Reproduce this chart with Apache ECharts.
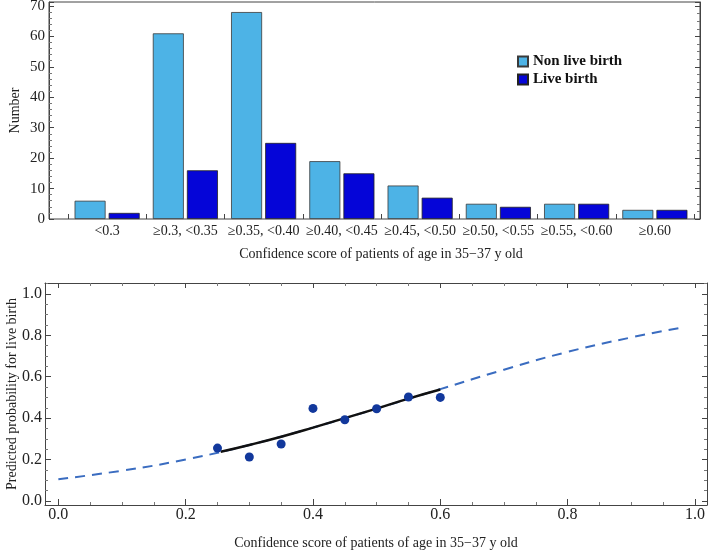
<!DOCTYPE html>
<html lang="en">
<head>
    <meta charset="utf-8">
    <title>Confidence score of patients of age in 35-37 y old</title>
</head>
<body style="margin:0;background:#fff">
    <div id="main" style="width:709px;height:551px;"></div>
    <script src="https://cdn.jsdelivr.net/npm/echarts@6/dist/echarts.min.js"></script>
    <script type="text/javascript">
        // histogram
        var categories = ['<0.3', '≥0.3, <0.35', '≥0.35, <0.40', '≥0.40, <0.45', '≥0.45, <0.50', '≥0.50, <0.55', '≥0.55, <0.60', '≥0.60'];
        var nonLiveBirth = [6, 61, 68, 19, 11, 5, 5, 3];
        var liveBirth = [2, 16, 25, 15, 7, 4, 5, 3];

        // observed rates
        var scoreX = [0.25, 0.30, 0.35, 0.40, 0.45, 0.50, 0.55, 0.60];
        var observedP = [0.255, 0.212, 0.275, 0.447, 0.392, 0.445, 0.502, 0.50];

        // predicted curve (dashed)
        var curveX = [0, 0.1, 0.2, 0.3, 0.4, 0.5, 0.6, 0.7, 0.8, 0.9, 0.98];
        var curveP = [0.105, 0.146, 0.20, 0.27, 0.354, 0.446, 0.54, 0.634, 0.72, 0.79, 0.838];

        // fitted segment (solid black)
        var fitX = [0.255, 0.3, 0.35, 0.4, 0.45, 0.5, 0.55, 0.6];
        var fitP = [0.237, 0.27, 0.31, 0.354, 0.40, 0.446, 0.494, 0.538];

        var serif = 'Liberation Serif';
        var frameColor = '#444';

        function pairs(xs, ys) {
            return xs.map(function (x, i) { return [x, ys[i]]; });
        }

        var myChart = echarts.init(document.getElementById('main'));

        var tickOnly = {
            axisLine: { show: true, onZero: false, lineStyle: { color: frameColor } },
            axisTick: { show: true, inside: true, length: 5, lineStyle: { color: frameColor } },
            minorTick: { show: true, splitNumber: 4, length: 3, lineStyle: { color: '#777' } },
            axisLabel: { show: false },
            splitLine: { show: false }
        };

        var option = {
            animation: false,
            backgroundColor: '#fff',
            textStyle: { fontFamily: serif },
            grid: [
                { left: 49, right: 9, top: 2, bottom: 332, show: true, borderColor: frameColor, borderWidth: 1, outerBoundsMode: 'none', containLabel: false },
                { left: 68, right: 15, top: 2, bottom: 332, outerBoundsMode: 'none', containLabel: false },
                { left: 45, right: 2, top: 283, bottom: 46, outerBoundsMode: 'none', containLabel: false }
            ],
            legend: {
                orient: 'vertical',
                left: 512,
                top: 49,
                itemWidth: 10,
                itemHeight: 10,
                itemGap: 3,
                icon: 'rect',
                data: ['Non live birth', 'Live birth'],
                textStyle: { fontFamily: serif, fontSize: 15, fontWeight: 'bold', color: '#111' }
            },
            xAxis: [
                { gridIndex: 0, type: 'value', min: 0, max: 1, show: false },
                {
                    gridIndex: 1, type: 'category', data: categories,
                    axisLine: { show: false },
                    axisTick: { show: true, inside: true, length: 5, lineStyle: { color: frameColor } },
                    axisLabel: { interval: 0, color: '#222', fontFamily: serif, fontSize: 14, margin: 5 },
                    name: 'Confidence score of patients of age in 35\u221237 y old',
                    nameLocation: 'middle', nameGap: 28, nameMoveOverlap: false,
                    nameTextStyle: { color: '#222', fontFamily: serif, fontSize: 14 }
                },
                {
                    gridIndex: 2, type: 'value', min: -0.021, max: 1.019, position: 'bottom',
                    axisLine: { show: true, onZero: false, lineStyle: { color: frameColor } },
                    axisTick: { show: true, inside: true, length: 6, lineStyle: { color: frameColor } },
                    minorTick: { show: true, splitNumber: 4, length: 3, lineStyle: { color: '#777' } },
                    splitLine: { show: false },
                    axisLabel: {
                        color: '#222', fontFamily: serif, fontSize: 16, margin: 2,
                        showMinLabel: false, showMaxLabel: false,
                        formatter: function (v) { return v.toFixed(1); }
                    },
                    name: 'Confidence score of patients of age in 35\u221237 y old',
                    nameLocation: 'middle', nameGap: 31, nameMoveOverlap: false,
                    nameTextStyle: { color: '#222', fontFamily: serif, fontSize: 14 }
                },
                Object.assign({ gridIndex: 2, type: 'value', min: -0.021, max: 1.019, position: 'top' }, tickOnly)
            ],
            yAxis: [
                {
                    gridIndex: 0, type: 'value', min: 0, max: 71.3,
                    axisLine: { show: true, onZero: false, lineStyle: { color: frameColor } },
                    axisTick: { show: true, inside: true, length: 5, lineStyle: { color: frameColor } },
                    minorTick: { show: true, splitNumber: 5, length: 3, lineStyle: { color: '#777' } },
                    splitLine: { show: false },
                    axisLabel: { color: '#222', fontFamily: serif, fontSize: 15, margin: 4, showMaxLabel: false },
                    name: 'Number', nameLocation: 'middle', nameGap: 27, nameMoveOverlap: false,
                    nameTextStyle: { color: '#222', fontFamily: serif, fontSize: 14 }
                },
                Object.assign({ gridIndex: 0, type: 'value', min: 0, max: 71.3, position: 'right' }, tickOnly),
                { gridIndex: 1, type: 'value', min: 0, max: 71.3, show: false },
                {
                    gridIndex: 2, type: 'value', min: -0.02, max: 1.053,
                    axisLine: { show: true, onZero: false, lineStyle: { color: frameColor } },
                    axisTick: { show: true, inside: true, length: 6, lineStyle: { color: frameColor } },
                    minorTick: { show: true, splitNumber: 4, length: 3, lineStyle: { color: '#777' } },
                    splitLine: { show: false },
                    axisLabel: {
                        color: '#222', fontFamily: serif, fontSize: 16, margin: 3,
                        showMinLabel: false, showMaxLabel: false,
                        formatter: function (v) { return v.toFixed(1); }
                    },
                    name: 'Predicted probability for live birth', nameLocation: 'middle', nameGap: 26, nameMoveOverlap: false,
                    nameTextStyle: { color: '#222', fontFamily: serif, fontSize: 14 }
                },
                Object.assign({ gridIndex: 2, type: 'value', min: -0.02, max: 1.053, position: 'right' }, tickOnly)
            ],
            series: [
                {
                    name: 'Non live birth', type: 'bar', xAxisIndex: 1, yAxisIndex: 2,
                    data: nonLiveBirth, barWidth: 31, barGap: '10%',
                    itemStyle: { color: '#4db3e6', borderColor: '#3a3a3a', borderWidth: 0.8 }
                },
                {
                    name: 'Live birth', type: 'bar', xAxisIndex: 1, yAxisIndex: 2,
                    data: liveBirth, barWidth: 31, barGap: '10%',
                    itemStyle: { color: '#0505d8', borderColor: '#222', borderWidth: 0.8 }
                },
                {
                    name: 'Predicted', type: 'line', xAxisIndex: 2, yAxisIndex: 3,
                    data: pairs(curveX, curveP), smooth: true, symbol: 'none',
                    lineStyle: { color: '#3a6cc0', width: 2, type: [10, 7] }, z: 2
                },
                {
                    name: 'Fit', type: 'line', xAxisIndex: 2, yAxisIndex: 3,
                    data: pairs(fitX, fitP), smooth: true, symbol: 'none',
                    lineStyle: { color: '#111', width: 2.5 }, z: 3
                },
                {
                    name: 'Observed', type: 'scatter', xAxisIndex: 2, yAxisIndex: 3,
                    data: pairs(scoreX, observedP), symbolSize: 9,
                    itemStyle: { color: '#12389c', opacity: 1 }, z: 4
                }
            ]
        };
        myChart.setOption(option);
    </script>
</body>
</html>
